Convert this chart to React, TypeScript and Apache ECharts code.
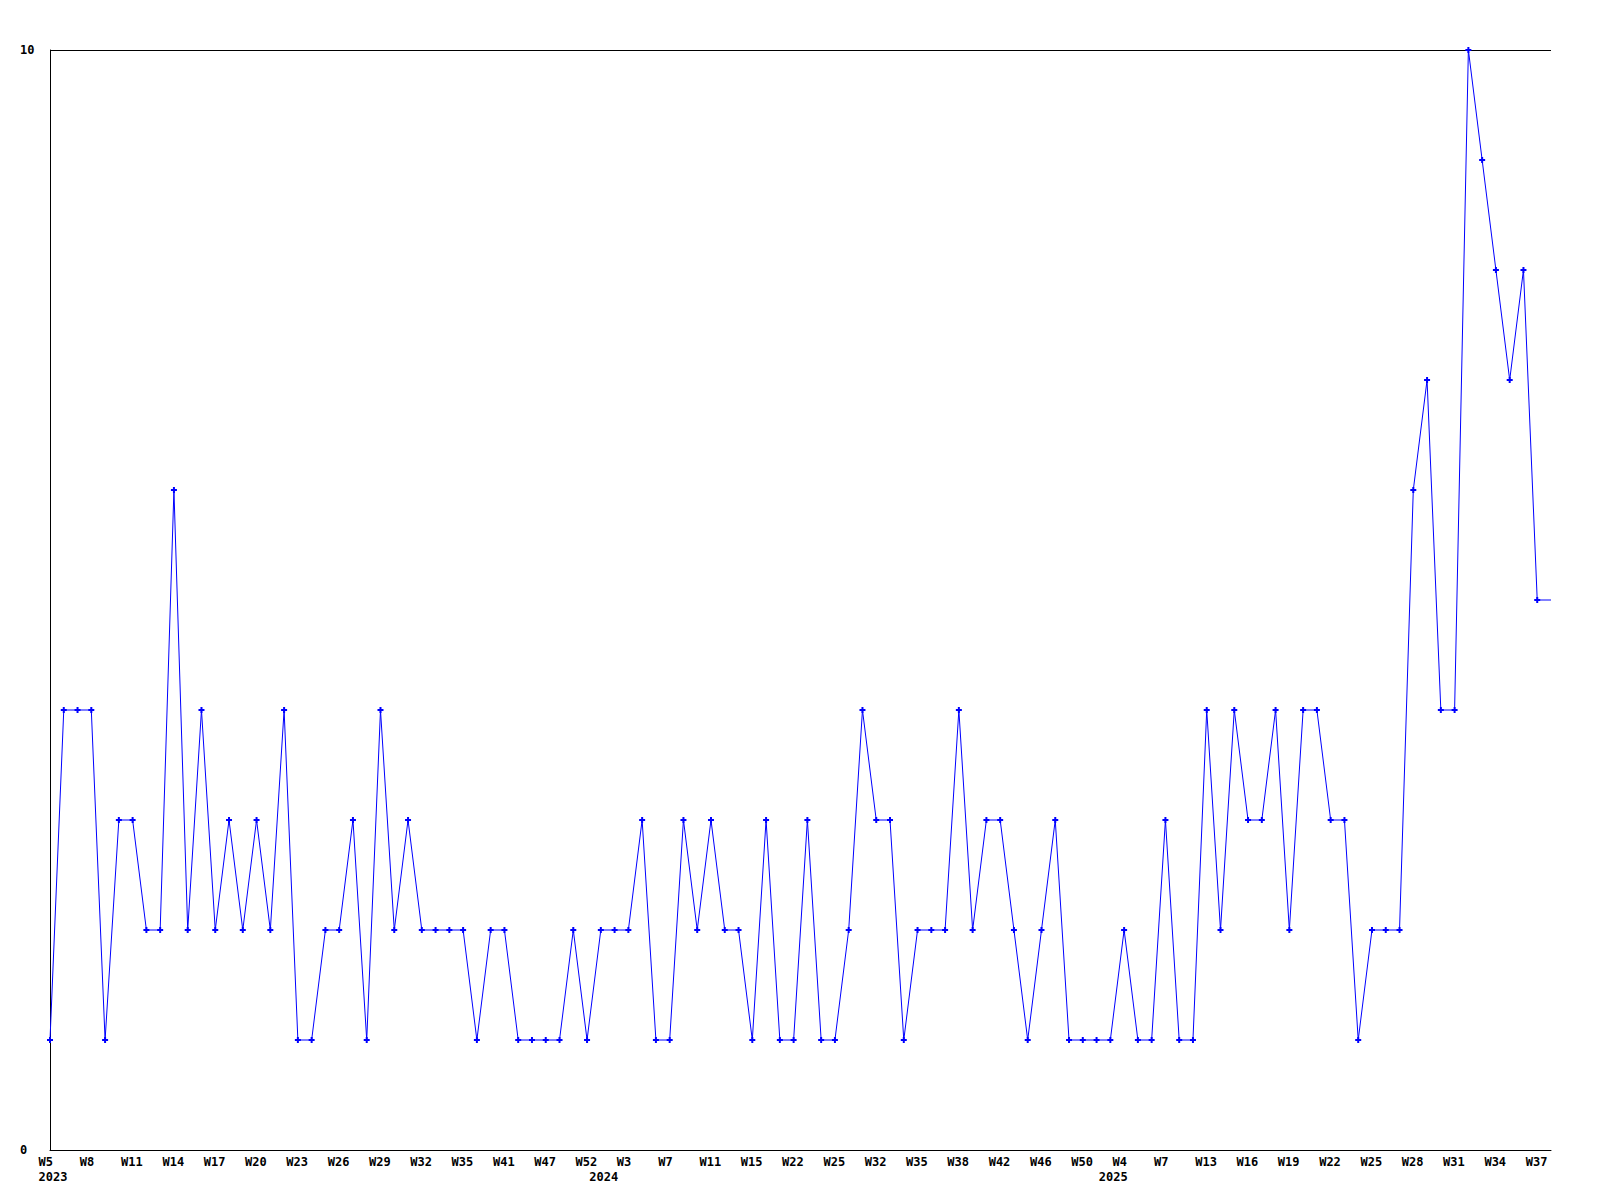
import React, { useEffect, useRef } from "react";
import * as echarts from "echarts";

const years: number[] = [
  2023, 2023, 2023, 2023, 2023, 2023, 2023, 2023, 2023, 2023,
  2023, 2023, 2023, 2023, 2023, 2023, 2023, 2023, 2023, 2023,
  2023, 2023, 2023, 2023, 2023, 2023, 2023, 2023, 2023, 2023,
  2023, 2023, 2023, 2023, 2023, 2023, 2023, 2023, 2023, 2023,
  2024, 2024, 2024, 2024, 2024, 2024, 2024, 2024, 2024, 2024,
  2024, 2024, 2024, 2024, 2024, 2024, 2024, 2024, 2024, 2024,
  2024, 2024, 2024, 2024, 2024, 2024, 2024, 2024, 2024, 2024,
  2024, 2024, 2024, 2024, 2024, 2024, 2024,
  2025, 2025, 2025, 2025, 2025, 2025, 2025, 2025, 2025, 2025,
  2025, 2025, 2025, 2025, 2025, 2025, 2025, 2025, 2025, 2025,
  2025, 2025, 2025, 2025, 2025, 2025, 2025, 2025, 2025, 2025,
  2025, 2025, 2025,
];

const weeks: number[] = [
  5, 6, 7, 8, 9, 10, 11, 12, 13, 14,
  15, 16, 17, 18, 19, 20, 21, 22, 23, 24,
  25, 26, 27, 28, 29, 30, 31, 32, 33, 34,
  35, 37, 39, 41, 43, 45, 47, 49, 50, 52,
  1, 2, 3, 5, 6, 7, 8, 9, 11, 12,
  13, 15, 17, 19, 22, 23, 24, 25, 27, 30,
  32, 33, 34, 35, 36, 37, 38, 40, 41, 42,
  43, 45, 46, 47, 49, 50, 52,
  2, 4, 5, 6, 7, 9, 11, 13, 14, 15,
  16, 17, 18, 19, 20, 21, 22, 23, 24, 25,
  26, 27, 28, 29, 30, 31, 32, 33, 34, 35,
  36, 37, 38,
];

const values: number[] = [
  1, 4, 4, 4, 1, 3, 3, 2, 2, 6,
  2, 4, 2, 3, 2, 3, 2, 4, 1, 1,
  2, 2, 3, 1, 4, 2, 3, 2, 2, 2,
  2, 1, 2, 2, 1, 1, 1, 1, 2, 1,
  2, 2, 2, 3, 1, 1, 3, 2, 3, 2,
  2, 1, 3, 1, 1, 3, 1, 1, 2, 4,
  3, 3, 1, 2, 2, 2, 4, 2, 3, 3,
  2, 1, 2, 3, 1, 1, 1,
  1, 2, 1, 1, 3, 1, 1, 4, 2, 4,
  3, 3, 4, 2, 4, 4, 3, 3, 1, 2,
  2, 2, 6, 7, 4, 4, 10, 9, 8, 7,
  8, 5, 5,
];

const yTicks: number[] = [0, 10];

const categories = weeks.map((w, i) => `${years[i]}-W${w}`);

const FONT = "'DejaVu Sans Mono', monospace";

export default function App() {
  const ref = useRef<HTMLDivElement>(null);

  useEffect(() => {
    document.body.style.margin = "0";
    if (!ref.current) return;
    const chart = echarts.init(ref.current, undefined, { renderer: "svg" });
    const lastIdx = values.length - 1;
    const labelBase = {
      fontFamily: FONT,
      fontSize: 12,
      fontWeight: "bold" as const,
      color: "#000",
      align: "center" as const,
    };
    chart.setOption({
      animation: false,
      backgroundColor: "#fff",
      grid: { left: 50, right: 49, top: 50, bottom: 50, containLabel: false },
      xAxis: [
        {
          type: "category",
          data: categories,
          boundaryGap: false,
          position: "bottom",
          axisLine: { show: true, lineStyle: { color: "#000", width: 1 } },
          axisTick: { show: false },
          splitLine: { show: false },
          axisLabel: {
            ...labelBase,
            interval: 2,
            margin: 6,
            formatter: (_v: string, i: number) => `{a|W${weeks[i]}}`,
            rich: { a: { ...labelBase, width: 23, align: "left" } },
          },
        },
        {
          type: "category",
          data: categories,
          boundaryGap: false,
          position: "bottom",
          gridIndex: 0,
          axisLine: { show: false },
          axisTick: { show: false },
          splitLine: { show: false },
          axisLabel: {
            ...labelBase,
            interval: (i: number) => i === 0 || years[i] !== years[i - 1],
            margin: 21,
            formatter: (_v: string, i: number) => `{a|${years[i]}}`,
            rich: { a: { ...labelBase, width: 23, align: "left" } },
          },
        },
      ],
      yAxis: {
        type: "value",
        min: yTicks[0],
        max: yTicks[yTicks.length - 1],
        interval: yTicks[1] - yTicks[0],
        axisLine: { show: true, lineStyle: { color: "#000", width: 1 } },
        axisTick: { show: false },
        splitLine: { show: true, lineStyle: { color: "#000", width: 1 } },
        axisLabel: {
          fontFamily: FONT,
          fontSize: 12,
          fontWeight: "bold",
          color: "#000",
          align: "left",
          margin: 30,
        },
      },
      series: [
        {
          type: "line",
          xAxisIndex: 0,
          data: values.map((v, i) =>
            i === lastIdx ? { value: v, symbol: "none" } : v
          ),
          symbol: "path://M2,0H4V2H6V4H4V6H2V4H0V2H2Z",
          symbolSize: 6,
          showAllSymbol: true,
          clip: false,
          lineStyle: { color: "#0000ff", width: 1 },
          itemStyle: { color: "#0000ff" },
        },
      ],
    });
    return () => chart.dispose();
  }, []);

  return <div ref={ref} style={{ width: 1600, height: 1200 }} />;
}
